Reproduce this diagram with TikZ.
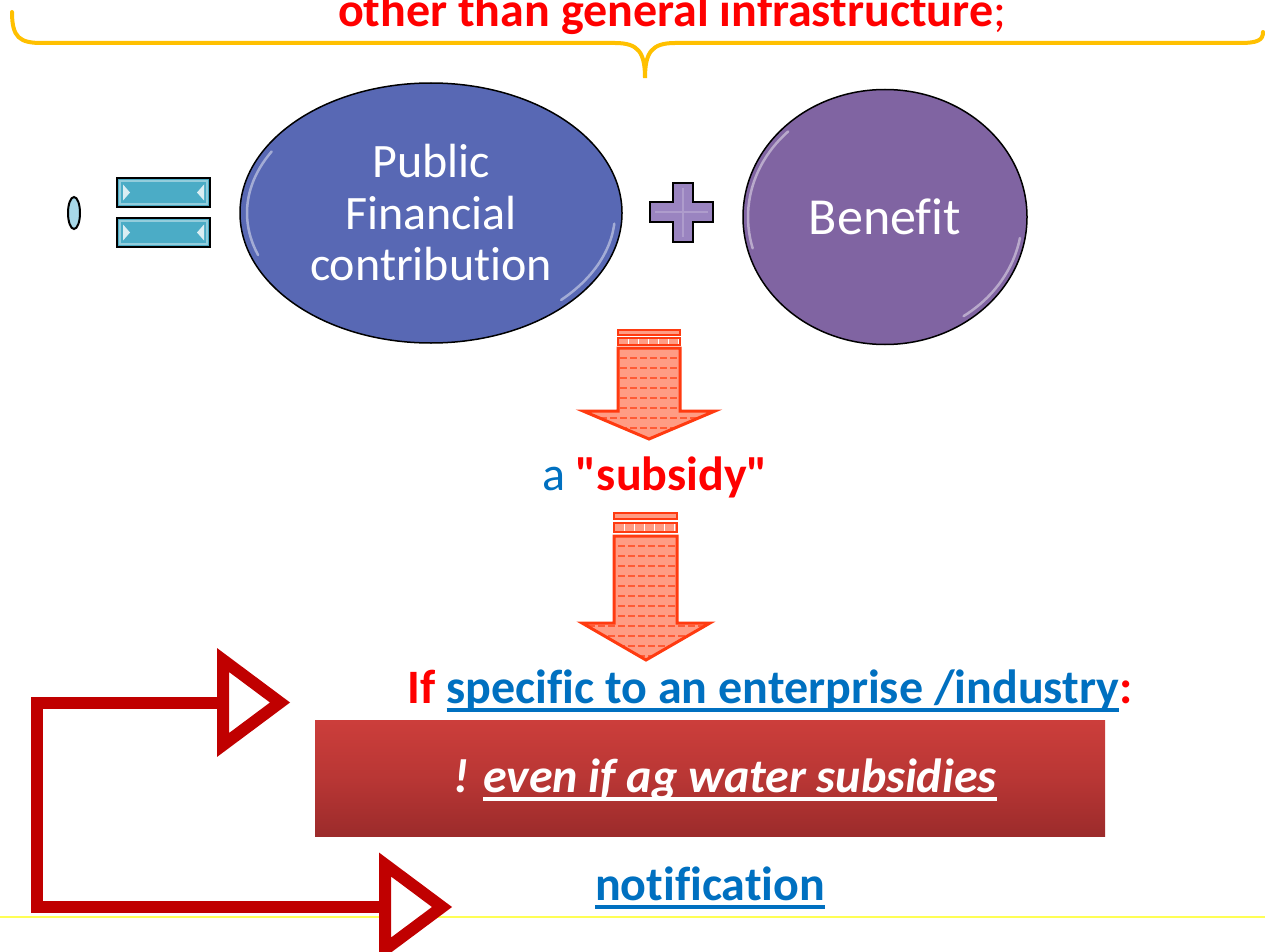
\documentclass[tikz,border=0pt]{standalone}
\usepackage{fontspec}
\setmainfont{Carlito}[Ligatures=NoCommon]
\newfontfamily\plaincarlito{Carlito}
\usetikzlibrary{shapes.geometric}
\definecolor{txtred}{HTML}{FF0000}
\definecolor{txtblue}{HTML}{0070C0}
\definecolor{bracecol}{HTML}{FFC000}
\definecolor{ellA}{HTML}{5868B4}
\definecolor{ellB}{HTML}{8064A2}
\definecolor{pluscol}{HTML}{9A84C0}
\definecolor{barcol}{HTML}{4BACC6}
\definecolor{dotcol}{HTML}{A8D8E8}
\definecolor{arrline}{HTML}{FF3A10}
\definecolor{arrfill}{HTML}{FF9C84}
\definecolor{arrdash}{HTML}{FF5A35}
\definecolor{connred}{HTML}{C00000}
\definecolor{boxtop}{HTML}{CC3E3B}
\definecolor{boxbot}{HTML}{9C2B2B}
\definecolor{rulecol}{HTML}{FFFF55}
\newcommand{\fsA}{\fontsize{48}{51.5}\selectfont}
\newcommand{\fsB}{\fontsize{52}{56}\selectfont}
\newcommand{\dq}{{\plaincarlito\bfseries\char"22}}
\newsavebox{\ulbox}
\newcommand{\myul}[1]{\sbox{\ulbox}{#1}\rlap{\rule[-8.5pt]{\wd\ulbox}{3.2pt}}\usebox{\ulbox}}
\begin{document}
\begin{tikzpicture}[x=1pt,y=-1pt,
  txt/.style={inner sep=0pt, anchor=base},
  bigell/.style={ellipse, draw=black, line width=1.5pt, inner sep=0pt, text=white, align=center},
  eqbar/.style={rectangle, draw=black, line width=2pt, fill=barcol, minimum width=93pt, minimum height=29pt, inner sep=0pt},
  gloss/.style={white, opacity=0.45, line width=2.5pt, line cap=round},
  arrbody/.style={draw=arrline, line width=3pt, line join=miter},
  arrband/.style={fill=arrfill, draw=arrline, line width=1.5pt},
  dashline/.style={arrdash, line width=1.2pt, dash pattern=on 7pt off 3pt},
  conn/.style={connred, line width=12pt, line join=miter},
  connhead/.style={draw=connred, fill=white, line width=12pt, line join=miter}]
\useasboundingbox (0,0) rectangle (1265,952);
\clip (0,0) rectangle (1265,952);

% top text and brace
\node[txt, text=txtred] (toptext) at (672,27) {\fsA\bfseries other than general infrastructure\mdseries;};
\draw[bracecol, line width=4pt, line cap=round]
  (12,12) .. controls (12,38) and (20,43) .. (42,43) -- (615,43)
  .. controls (638,43) and (645,52) .. (645,78)
  .. controls (645,52) and (652,43) .. (675,43) -- (1240,43)
  .. controls (1258,43) and (1263,40) .. (1263,32);

% bottom rule
\draw[rulecol, line width=2.5pt] (0,917) -- (1265,917);

% small ellipse and equals sign
\node[ellipse, draw=black, line width=2pt, fill=dotcol, minimum width=12pt, minimum height=32pt, inner sep=0pt] (dot) at (74,213) {};
\node[eqbar] (eqA) at (163.5,192.5) {};
\node[eqbar] (eqB) at (163.5,232.5) {};
\foreach \b in {eqA,eqB}{
  \draw[white, opacity=0.4, line width=2pt] ([shift={(4,-4)}]\b.south west) rectangle ([shift={(-4,4)}]\b.north east);
  \fill[white, opacity=0.8] ([shift={(7,-8)}]\b.west) -- ([shift={(14,0)}]\b.west) -- ([shift={(7,8)}]\b.west) -- cycle;
  \fill[white, opacity=0.8] ([shift={(-7,-8)}]\b.east) -- ([shift={(-14,0)}]\b.east) -- ([shift={(-7,8)}]\b.east) -- cycle;
}

% ellipse 1
\node[bigell, fill=ellA, minimum width=382pt, minimum height=260pt, font=\fsA] (pfc) at (431,213)
  {Public\\Financial\\contribution};
\draw[gloss] plot[domain=150:200, samples=25] ({431+184*cos(\x)}, {213-123*sin(\x)});
\draw[gloss] plot[domain=-5:-45, samples=25] ({431+184*cos(\x)}, {213-123*sin(\x)});

% plus
\draw[black, line width=2pt, fill=pluscol, line join=miter]
  (673,183) -- (693,183) -- (693,202) -- (713,202) -- (713,222) -- (693,222) -- (693,242)
  -- (673,242) -- (673,222) -- (650,222) -- (650,202) -- (673,202) -- cycle;
\draw[white, opacity=0.2, line width=1.5pt] (683,188) -- (683,237) (655,212) -- (708,212);

% ellipse 2
\node[bigell, fill=ellB, minimum width=284pt, minimum height=255pt, font=\fsB] (ben) at (885,217) {Benefit};
\draw[gloss] plot[domain=135:195, samples=25] ({885+137*cos(\x)}, {217-121*sin(\x)});
\draw[gloss] plot[domain=-10:-55, samples=25] ({885+137*cos(\x)}, {217-121*sin(\x)});

% block arrow 1
\begin{scope}
  \clip (618,348) -- (680,348) -- (680,411) -- (715,411) -- (649,439) -- (583,411) -- (618,411) -- cycle;
  \fill[arrfill] (580,345) rectangle (720,442);
  \foreach \yy in {358,368,...,438} \draw[dashline] (580,\yy) -- (720,\yy);
\end{scope}
\draw[arrbody] (618,348) -- (680,348) -- (680,411) -- (715,411) -- (649,439) -- (583,411) -- (618,411) -- cycle;
\draw[arrband] (618,330) rectangle (680,335);
\draw[arrband] (618,338) rectangle (680,345);
\foreach \xx in {628,638,...,678} \draw[white, line width=0.8pt] (\xx,338.8) -- (\xx,344.2);

% subsidy label
\node[txt] (subs) at (655,490) {\fsA\textcolor{txtblue}{a} \textcolor{txtred}{\bfseries\dq subsidy\dq}};

% block arrow 2
\begin{scope}
  \clip (614,536) -- (677,536) -- (677,623) -- (710,623) -- (646,660) -- (582,623) -- (614,623) -- cycle;
  \fill[arrfill] (578,530) rectangle (714,664);
  \foreach \yy in {546,556,...,656} \draw[dashline] (578,\yy) -- (714,\yy);
\end{scope}
\draw[arrbody] (614,536) -- (677,536) -- (677,623) -- (710,623) -- (646,660) -- (582,623) -- (614,623) -- cycle;
\draw[arrband] (614,513) rectangle (677,519);
\draw[arrband] (614,523) rectangle (677,532);
\foreach \xx in {624,634,...,674} \draw[white, line width=0.8pt] (\xx,523.8) -- (\xx,531.2);

% "If specific" line
\node[txt] (ifline) at (770,703) {\fsA\bfseries\textcolor{txtred}{If} \textcolor{txtblue}{\myul{specific to an enterprise /industry}}\textcolor{txtred}{:}};

% red box
\node[rectangle, minimum width=790pt, minimum height=116pt, inner sep=0pt,
      top color=boxtop, bottom color=boxbot, middle color=boxtop!60!boxbot] (redbox) at (710,778) {};
\node[txt, text=white] (boxtext) at (725,792) {\fsA\bfseries\itshape ! \myul{even if ag water subsidies}};

% notification
\node[txt, text=txtblue] (notif) at (710,900) {\fsA\bfseries\myul{notification}};

% red connectors
\coordinate (hA) at (223,702.5);
\coordinate (corA) at (37,702.5);
\coordinate (corB) at (37,907);
\coordinate (hB) at (385,907);
\draw[conn] (hA) -- (corA) -- (corB) -- (hB);
\draw[connhead] ([yshift=-42.5pt]hA) -- ([xshift=57pt]hA) -- ([yshift=42.5pt]hA) -- cycle;
\draw[connhead] ([yshift=-42.5pt]hB) -- ([xshift=57pt]hB) -- ([yshift=42.5pt]hB) -- cycle;
\end{tikzpicture}
\end{document}
